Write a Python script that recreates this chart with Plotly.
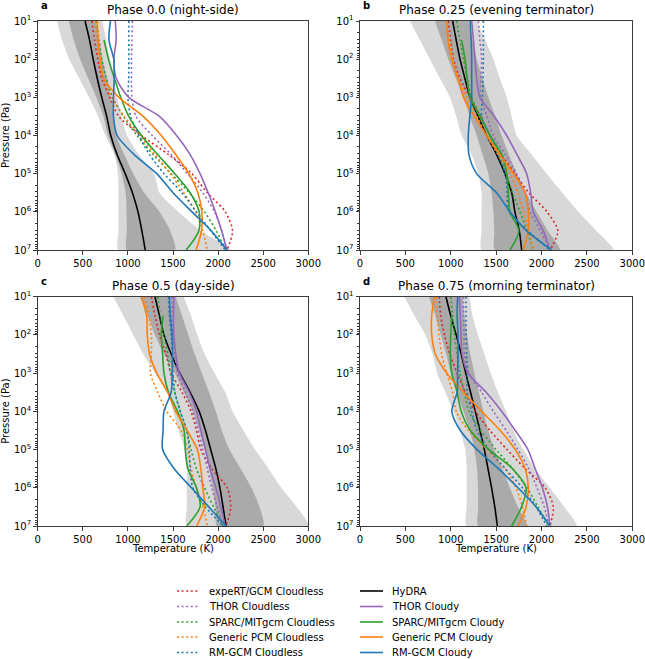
import plotly.graph_objects as go

# ---------------- data ----------------
LOG_P = [1.0, 1.5, 2.0, 2.5, 3.0, 3.5, 4.0, 4.5, 5.0, 5.5, 6.0, 6.5, 7.0]
PRESSURE_PA = [10 ** v for v in LOG_P]

PHASE_TITLES = ["Phase 0.0 (night-side)", "Phase 0.25 (evening terminator)",
                "Phase 0.5 (day-side)", "Phase 0.75 (morning terminator)"]
PANEL_LETTERS = ["a", "b", "c", "d"]
X_TICKS = [0, 500, 1000, 1500, 2000, 2500, 3000]
Y_TICK_EXP = [1, 2, 3, 4, 5, 6, 7]

CLOUDLESS_NAMES = ["expeRT/GCM Cloudless", "THOR Cloudless", "SPARC/MITgcm Cloudless",
                   "Generic PCM Cloudless", "RM-GCM Cloudless"]
CLOUDY_NAMES = ["HyDRA", "THOR Cloudy", "SPARC/MITgcm Cloudy",
                "Generic PCM Cloudy", "RM-GCM Cloudy"]

# HyDRA retrieval envelopes (K): outer lo/hi, inner lo/hi
BAND_NIGHT = {
    "outer_lo": [214, 270, 350, 460, 570, 670, 750, 850, 890, 895, 895, 895, 895],
    "outer_hi": [714, 760, 800, 840, 880, 930, 990, 1120, 1290, 1350, 1560, 1810, 2140],
    "inner_lo": [344, 400, 470, 560, 650, 728, 780, 860, 930, 975, 985, 988, 988],
    "inner_hi": [640, 680, 720, 770, 810, 840, 870, 960, 1060, 1180, 1350, 1470, 1524],
}
BAND_EVENING = {
    "outer_lo": [551, 660, 771, 880, 991, 1060, 1120, 1230, 1304, 1340, 1340, 1340, 1340],
    "outer_hi": [1285, 1380, 1469, 1540, 1616, 1671, 1726, 1890, 2056, 2230, 2405, 2607, 2791],
    "inner_lo": [826, 900, 973, 1055, 1138, 1210, 1285, 1350, 1414, 1450, 1469, 1480, 1487],
    "inner_hi": [1193, 1240, 1285, 1350, 1414, 1490, 1561, 1640, 1726, 1830, 1946, 2070, 2203],
}
BAND_DAY = {
    "outer_lo": [839, 950, 1060, 1170, 1300, 1440, 1500, 1560, 1630, 1653, 1653, 1653, 1653],
    "outer_hi": [1620, 1700, 1770, 1850, 1960, 2080, 2160, 2280, 2410, 2560, 2700, 2872, 3000],
    "inner_lo": [1134, 1220, 1300, 1400, 1520, 1620, 1720, 1790, 1850, 1900, 1940, 1970, 1990],
    "inner_hi": [1530, 1600, 1670, 1740, 1820, 1900, 1975, 2040, 2125, 2250, 2370, 2460, 2502],
}
BAND_MORNING = {
    "outer_lo": [490, 600, 720, 800, 850, 940, 1030, 1102, 1160, 1175, 1175, 1175, 1175],
    "outer_hi": [1205, 1240, 1300, 1370, 1440, 1520, 1610, 1689, 1800, 1930, 2090, 2250, 2387],
    "inner_lo": [760, 830, 890, 950, 1000, 1070, 1140, 1212, 1260, 1290, 1300, 1303, 1303],
    "inner_hi": [1131, 1150, 1180, 1215, 1260, 1310, 1360, 1413, 1480, 1570, 1650, 1740, 1836],
}

# Temperature profiles (K) on LOG_P levels
T_NIGHT = {
    "HyDRA": [525, 575, 615, 660, 710, 765, 810, 880, 970, 1050, 1112, 1155, 1192],
    "expeRT/GCM Cloudless": [600, 630, 665, 710, 800, 900, 1150, 1450, 1710, 1880, 2080, 2160, 2098],
    "THOR Cloudless": [1050, 1045, 1040, 1040, 1045, 1090, 1270, 1480, 1660, 1830, 1960, 2040, 2098],
    "SPARC/MITgcm Cloudless": [650, 680, 710, 760, 830, 950, 1100, 1280, 1480, 1680, 1850, 1980, 2085],
    "Generic PCM Cloudless": [640, 660, 690, 730, 820, 960, 1130, 1300, 1470, 1620, 1750, 1830, 1880],
    "RM-GCM Cloudless": [1010, 1010, 1010, 1010, 1000, 1030, 1120, 1240, 1400, 1600, 1760, 1920, 2080],
    "THOR Cloudy": [860, 870, 845, 870, 1010, 1350, 1540, 1690, 1800, 1890, 1970, 2040, 2098],
    "SPARC/MITgcm Cloudy": [None, 735, 785, 850, 920, 1010, 1150, 1330, 1520, 1690, 1790, 1785, 1646],
    "Generic PCM Cloudy": [660, 670, 690, 730, 900, 1170, 1370, 1530, 1675, 1775, 1820, 1815, 1757],
    "RM-GCM Cloudy": [806, 790, 843, 848, 840, 840, 880, 1070, 1320, 1500, 1710, 1925, 2098],
}
T_EVENING = {
    "HyDRA": [1021, 1060, 1102, 1155, 1212, 1300, 1395, 1505, 1597, 1671, 1707, 1755, 1781],
    "expeRT/GCM Cloudless": [973, 1000, 1030, 1100, 1212, 1330, 1432, 1560, 1707, 1860, 2060, 2180, 2093],
    "THOR Cloudless": [1304, 1320, 1340, 1330, 1330, 1400, 1469, 1600, 1726, 1820, 1873, 1990, 2093],
    "SPARC/MITgcm Cloudless": [1065, 1100, 1140, 1180, 1230, 1330, 1432, 1530, 1616, 1680, 1763, 1840, 1909],
    "Generic PCM Cloudless": [950, 985, 1020, 1080, 1175, 1290, 1395, 1520, 1652, 1740, 1800, 1860, 1909],
    "RM-GCM Cloudless": [1359, 1359, 1359, 1355, 1350, 1340, 1432, 1520, 1600, 1620, 1640, 1850, 2093],
    "THOR Cloudy": [1230, 1250, 1267, 1285, 1322, 1480, 1616, 1730, 1836, 1880, 1909, 2020, 2093],
    "SPARC/MITgcm Cloudy": [None, 1120, 1157, 1180, 1212, 1320, 1432, 1561, 1616, 1634, 1652, 1750, 1652],
    "Generic PCM Cloudy": [955, 970, 1010, 1080, 1140, 1260, 1395, 1540, 1690, 1820, 1854, 1854, 1799],
    "RM-GCM Cloudy": [1212, 1225, 1230, 1230, 1230, 1210, 1193, 1200, 1285, 1505, 1652, 1836, 2111],
}
T_DAY = {
    "HyDRA": [1300, 1350, 1400, 1480, 1575, 1690, 1790, 1860, 1918, 1975, 2020, 2055, 2088],
    "expeRT/GCM Cloudless": [1260, 1300, 1350, 1420, 1480, 1600, 1700, 1760, 1810, 1930, 2100, 2140, 2088],
    "THOR Cloudless": [1490, 1490, 1500, 1520, 1550, 1640, 1720, 1780, 1830, 1880, 1930, 1990, 2060],
    "SPARC/MITgcm Cloudless": [1330, 1360, 1400, 1440, 1470, 1520, 1580, 1650, 1700, 1760, 1850, 1950, 2060],
    "Generic PCM Cloudless": [1180, 1230, 1260, 1260, 1250, 1330, 1430, 1590, 1660, 1700, 1760, 1830, 1881],
    "RM-GCM Cloudless": [1450, 1460, 1480, 1490, 1500, 1520, 1580, 1653, 1680, 1690, 1720, 1860, 2058],
    "THOR Cloudy": [1510, 1505, 1510, 1530, 1570, 1680, 1760, 1810, 1860, 1910, 1975, 2030, 2077],
    "SPARC/MITgcm Cloudy": [None, 1390, 1370, 1385, 1400, 1450, 1550, 1623, 1636, 1665, 1760, 1800, 1653],
    "Generic PCM Cloudy": [1150, 1208, 1215, 1240, 1320, 1440, 1530, 1655, 1770, 1808, 1830, 1850, 1763],
    "RM-GCM Cloudy": [1460, 1470, 1490, 1495, 1490, 1480, 1400, 1390, 1385, 1513, 1705, 1896, 2088],
}
T_MORNING = {
    "HyDRA": [947, 1000, 1060, 1115, 1165, 1218, 1270, 1322, 1370, 1410, 1450, 1485, 1513],
    "expeRT/GCM Cloudless": [873, 890, 930, 990, 1070, 1160, 1270, 1432, 1620, 1820, 2040, 2130, 2093],
    "THOR Cloudless": [1140, 1140, 1145, 1150, 1200, 1340, 1470, 1610, 1740, 1860, 1950, 2030, 2080],
    "SPARC/MITgcm Cloudless": [1000, 1020, 1040, 1070, 1100, 1150, 1200, 1330, 1500, 1680, 1840, 1960, 2080],
    "Generic PCM Cloudless": [840, 850, 870, 900, 955, 1020, 1060, 1193, 1400, 1600, 1720, 1790, 1836],
    "RM-GCM Cloudless": [1168, 1168, 1170, 1175, 1180, 1180, 1230, 1290, 1420, 1600, 1790, 1940, 2057],
    "THOR Cloudy": [1095, 1105, 1113, 1125, 1190, 1390, 1560, 1710, 1850, 1930, 2010, 2065, 2093],
    "SPARC/MITgcm Cloudy": [None, 1010, 1000, 995, 1010, 1070, 1115, 1215, 1420, 1680, 1830, 1780, 1671],
    "Generic PCM Cloudy": [820, 790, 790, 830, 955, 1140, 1340, 1545, 1710, 1820, 1854, 1830, 1744],
    "RM-GCM Cloudy": [1076, 1070, 1080, 1080, 1075, 1070, 1012, 1105, 1290, 1525, 1740, 1940, 2093],
}

PANEL_TEMPS = [T_NIGHT, T_EVENING, T_DAY, T_MORNING]
PANEL_BANDS = [BAND_NIGHT, BAND_EVENING, BAND_DAY, BAND_MORNING]

# ---------------- styles ----------------
COLORS = {
    "expeRT/GCM Cloudless": "#d62728", "THOR Cloudless": "#9467bd",
    "SPARC/MITgcm Cloudless": "#2ca02c", "Generic PCM Cloudless": "#ff7f0e",
    "RM-GCM Cloudless": "#1f77b4", "HyDRA": "#000000", "THOR Cloudy": "#9467bd",
    "SPARC/MITgcm Cloudy": "#2ca02c", "Generic PCM Cloudy": "#ff7f0e",
    "RM-GCM Cloudy": "#1f77b4",
}
DOT = "2px,2.6px"
LIGHT_GREY = "#d8d8d8"
DARK_GREY = "#aaaaaa"
FONT = "DejaVu Sans"
W, H = 645, 659

X_DOMAINS = [[37.7 / W, 308.3 / W], [360.0 / W, 632.3 / W]]
Y_DOMAINS = [[1 - 250.0 / H, 1 - 21.0 / H], [1 - 526.0 / H, 1 - 296.7 / H]]

fig = go.Figure()

for i in range(4):
    row, col = divmod(i, 2)
    sfx = "" if i == 0 else str(i + 1)
    xa, ya = "x" + sfx, "y" + sfx
    band = PANEL_BANDS[i]
    temps = PANEL_TEMPS[i]
    for lo_key, hi_key, colr in [("outer_lo", "outer_hi", LIGHT_GREY),
                                 ("inner_lo", "inner_hi", DARK_GREY)]:
        fig.add_trace(go.Scatter(
            x=band[lo_key] + band[hi_key][::-1],
            y=PRESSURE_PA + PRESSURE_PA[::-1],
            fill="toself", fillcolor=colr, line=dict(width=0, shape="spline", smoothing=0.6),
            mode="lines", xaxis=xa, yaxis=ya, showlegend=False, hoverinfo="skip"))
    order = ["HyDRA"] + CLOUDLESS_NAMES + CLOUDY_NAMES[1:]
    for name in order:
        dash = DOT if name in CLOUDLESS_NAMES else "solid"
        fig.add_trace(go.Scatter(
            x=temps[name], y=PRESSURE_PA, mode="lines", name=name,
            line=dict(color=COLORS[name], width=1.6, dash=dash, shape="spline", smoothing=0.8),
            xaxis=xa, yaxis=ya, showlegend=False))

    axis_line = dict(showline=True, linecolor="#3a3a3a", linewidth=1, mirror=True,
                     ticks="outside", ticklen=3.5, tickcolor="#3a3a3a", showgrid=False,
                     zeroline=False, automargin=False, ticklabeloverflow="allow",
                     tickfont=dict(family=FONT, size=10, color="black"))
    fig.layout["xaxis" + sfx] = dict(
        domain=X_DOMAINS[col], range=[0, 3000], tickvals=X_TICKS,
        ticktext=[str(v) for v in X_TICKS], anchor=ya, **axis_line)
    fig.layout["yaxis" + sfx] = dict(
        domain=Y_DOMAINS[row], type="log", range=[7, 1],
        tickvals=[10 ** e for e in Y_TICK_EXP],
        ticktext=["10<sup>%d</sup>" % e for e in Y_TICK_EXP],
        minor=dict(ticks="outside", ticklen=2, tickcolor="#3a3a3a", dtick="D1", showgrid=False),
        anchor=xa, **axis_line)

    cx = (X_DOMAINS[col][0] + X_DOMAINS[col][1]) / 2
    top = Y_DOMAINS[row][1]
    fig.add_annotation(text=PHASE_TITLES[i], x=cx, y=top + 10.5 / H, xref="paper", yref="paper",
                       xanchor="center", yanchor="middle", showarrow=False,
                       font=dict(family=FONT, size=12, color="black"))
    fig.add_annotation(text="<b>%s</b>" % PANEL_LETTERS[i], x=X_DOMAINS[col][0] + 1.0 / W,
                       y=top + 15.5 / H, xref="paper", yref="paper",
                       xanchor="left", yanchor="middle", showarrow=False,
                       font=dict(family=FONT, size=10, color="black"))
    if col == 0:
        fig.add_annotation(text="Pressure (Pa)", x=5.5 / W,
                           y=(Y_DOMAINS[row][0] + Y_DOMAINS[row][1]) / 2,
                           xref="paper", yref="paper", textangle=-90, showarrow=False,
                           xanchor="center", yanchor="middle",
                           font=dict(family=FONT, size=10, color="black"))
    if row == 1:
        fig.add_annotation(text="Temperature (K)", x=cx, y=1 - 548.0 / H,
                           xref="paper", yref="paper", showarrow=False,
                           xanchor="center", yanchor="middle",
                           font=dict(family=FONT, size=10, color="black"))

# ---------------- manual legend ----------------
ROW_Y = [591, 606.5, 622, 637, 652.5]
for names, x0, x1, xt in [(CLOUDLESS_NAMES, 177, 200, 207), (CLOUDY_NAMES, 360, 383, 390)]:
    for k, name in enumerate(names):
        yy = 1 - ROW_Y[k] / H
        dash = DOT if name in CLOUDLESS_NAMES else "solid"
        fig.add_shape(type="line", xref="paper", yref="paper", x0=x0 / W, x1=x1 / W,
                      y0=yy, y1=yy, line=dict(color=COLORS[name], width=1.6, dash=dash))
        fig.add_annotation(text=name, x=xt / W, y=yy, xref="paper", yref="paper",
                           xanchor="left", yanchor="middle", showarrow=False,
                           font=dict(family=FONT, size=10, color="black"))

fig.update_layout(width=W, height=H, template="none", paper_bgcolor="white",
                  plot_bgcolor="white", margin=dict(l=0, r=0, t=0, b=0),
                  showlegend=False, hovermode=False,
                  font=dict(family=FONT, size=10, color="black"))

fig.write_html(
    "out.html",
    config={"displayModeBar": False, "staticPlot": True},
    post_script="document.body.style.margin='0';document.body.style.padding='0';"
                "document.body.style.overflow='hidden';",
)
